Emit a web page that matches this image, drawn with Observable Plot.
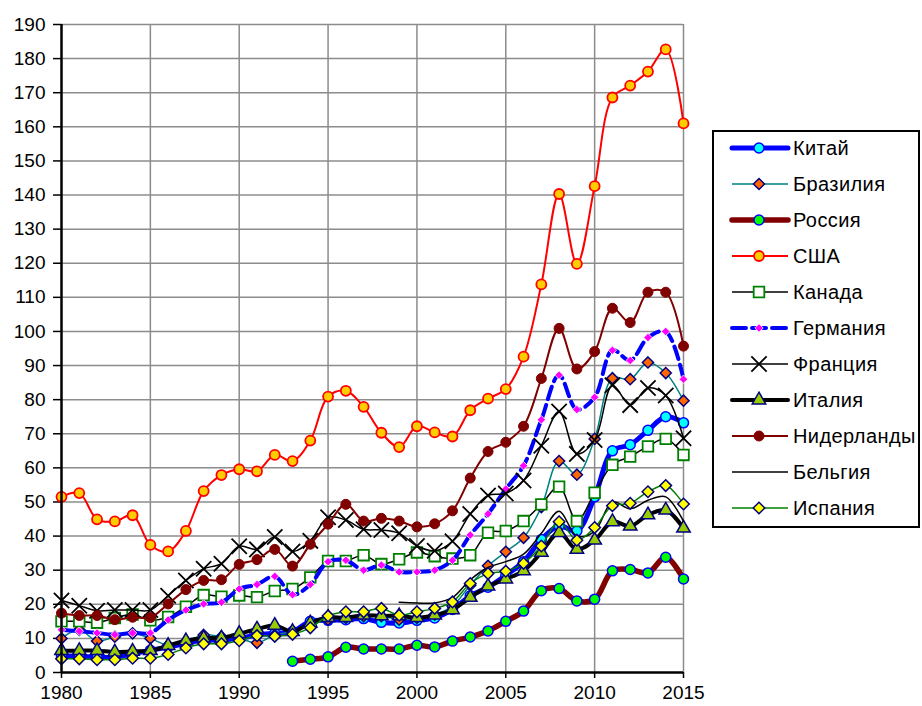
<!DOCTYPE html>
<html><head><meta charset="utf-8">
<script src="https://cdn.jsdelivr.net/npm/d3@7"></script>
<script src="https://cdn.jsdelivr.net/npm/@observablehq/plot@0.6"></script>
<style>
body{margin:0;background:#fff;}
#wrap{position:relative;width:922px;height:706px;overflow:hidden;}
#wrap svg{display:block;}
#legend{position:absolute;left:0;top:0;}
</style></head><body><div id="wrap"></div>
<script>
const years = [1980,1981,1982,1983,1984,1985,1986,1987,1988,1989,1990,1991,1992,1993,1994,1995,1996,1997,1998,1999,2000,2001,2002,2003,2004,2005,2006,2007,2008,2009,2010,2011,2012,2013,2014,2015];
const xTicks = [1980,1985,1990,1995,2000,2005,2010,2015];
const yTicks = [0,10,20,30,40,50,60,70,80,90,100,110,120,130,140,150,160,170,180,190];

const china = [4.8,4.8,4.5,4.5,5.5,6.5,7.5,8.5,9.5,9.5,10.0,11.0,11.5,12.0,15.0,15.3,15.5,15.8,14.7,14.5,15.3,16.0,18.5,22.5,25.0,28.5,32.5,39.0,43.0,41.5,51.5,65.0,66.8,71.0,75.0,73.2];
const brazil = [10.0,12.5,9.2,10.5,11.5,10.0,8.0,9.0,11.0,10.5,10.0,8.7,11.0,12.0,14.0,15.5,16.0,16.5,16.5,15.5,16.0,17.0,19.5,25.6,31.3,35.4,39.5,48.5,62.0,58.0,68.5,86.3,86.0,90.9,87.8,79.7];
const russia = [null,null,null,null,null,null,null,null,null,null,null,null,null,3.3,3.9,4.6,7.4,6.9,6.9,6.9,8.0,7.5,9.2,10.4,12.2,15.0,18.0,24.0,24.6,21.0,21.5,29.8,30.2,29.2,33.8,27.4];
const usa = [51.5,52.6,44.9,44.3,46.1,37.4,35.5,41.5,53.2,57.9,59.6,59.0,63.8,62.0,68.0,80.9,82.6,77.9,70.3,66.1,72.2,70.4,69.2,76.9,80.3,83.1,92.6,113.8,140.3,119.8,142.6,168.6,172.1,176.2,182.7,161.0];
const canada = [15.0,15.0,14.6,16.0,17.0,15.3,16.3,19.3,22.7,22.2,22.6,22.1,23.9,24.5,27.9,32.7,32.7,34.4,31.8,33.2,35.2,34.1,33.4,34.4,41.0,41.5,44.4,49.3,54.5,44.4,52.7,60.9,63.3,66.3,68.5,63.8];
const germany = [12.5,12.1,11.6,11.1,11.6,11.6,15.4,18.3,20.1,20.6,24.5,25.8,28.2,22.8,25.8,32.5,32.9,30.0,31.5,29.5,29.5,30.0,32.9,40.3,46.5,53.8,60.6,74.1,87.2,77.1,80.7,94.5,91.5,98.2,100.0,86.0];
const france = [21.1,19.6,18.1,18.3,18.3,18.3,22.5,27.0,30.4,31.9,37.0,36.1,39.7,35.5,38.6,45.5,44.7,42.0,41.8,40.8,37.1,35.7,38.5,46.5,51.9,52.5,56.3,66.5,76.5,64.1,68.2,84.2,78.4,83.4,81.2,68.7];
const italy = [6.4,6.4,6.4,6.0,6.2,6.4,7.9,9.3,10.1,10.1,11.4,12.7,13.8,12.0,14.5,16.1,16.1,16.8,16.6,16.6,16.1,16.8,18.4,22.0,25.3,27.4,29.8,35.2,41.0,36.1,38.8,44.2,42.9,46.2,47.6,42.3];
const netherlands = [17.4,16.7,16.7,15.5,16.2,16.1,20.1,24.3,27.0,27.2,31.7,33.1,36.1,31.2,37.6,43.5,49.3,44.4,45.2,44.4,42.7,43.6,47.4,57.0,64.8,67.5,72.2,86.2,100.9,89.0,94.1,106.8,102.6,111.5,111.5,95.7];
const belgium = [null,null,null,null,null,null,null,null,null,null,null,null,null,null,null,null,null,null,null,20.6,20.4,20.4,22.0,27.2,30.8,32.5,34.7,40.8,47.3,40.0,41.4,50.0,48.0,50.5,51.5,44.3];
const spain = [4.0,4.0,3.75,3.75,4.2,4.2,5.3,7.2,8.4,8.4,9.3,10.8,10.6,11.2,13.1,16.6,17.8,17.8,18.8,16.8,17.8,18.8,20.7,26.1,29.0,29.7,32.0,37.1,44.2,38.8,42.5,48.9,49.6,53.0,54.8,49.4];

const names = ["Китай","Бразилия","Россия","США","Канада","Германия","Франция","Италия","Нидерланды","Бельгия","Испания"];
const valuesList = [china,brazil,russia,usa,canada,germany,france,italy,netherlands,belgium,spain];

// styles
const styles = [
  {line:"#0000ff", lw:5, dash:null, symbol:"circle", r:5, fill:"#00ffff", stroke:"#0000ff", sw:1.5},
  {line:"#008080", lw:1.5, dash:null, symbol:"diamond2", r:5, fill:"#ff6600", stroke:"#000080", sw:1.5},
  {line:"#800000", lw:5.5, dash:null, symbol:"circle", r:5, fill:"#00ff00", stroke:"#0000ff", sw:1.5},
  {line:"#ff0000", lw:2, dash:null, symbol:"circle", r:5, fill:"#ffcc00", stroke:"#ff0000", sw:1.8},
  {line:"#000000", lw:1.5, dash:null, symbol:"square", r:6, fill:"#ffffff", stroke:"#008000", sw:1.8},
  {line:"#0000ff", lw:4, dash:"13,6", symbol:"diamond2", r:3.8, fill:"#ff00ff", stroke:"#ffffff", sw:0.8},
  {line:"#000000", lw:1.5, dash:null, symbol:"times", r:7, fill:"none", stroke:"#000000", sw:1.8},
  {line:"#000000", lw:4, dash:null, symbol:"triangle", r:5, fill:"#99cc00", stroke:"#000080", sw:1.5},
  {line:"#800000", lw:2, dash:null, symbol:"circle", r:5, fill:"#800000", stroke:"#800000", sw:1},
  {line:"#000000", lw:1.5, dash:null, symbol:null},
  {line:"#008000", lw:1.5, dash:null, symbol:"diamond2", r:5.2, fill:"#ffff00", stroke:"#000080", sw:1.5}
];

const font = "'Liberation Sans', Arial, sans-serif";
const marks = [
  Plot.gridX(xTicks.slice(1), {stroke:"#8c8c8c", strokeOpacity:1, strokeWidth:1.5}),
  Plot.gridY(yTicks.slice(1), {stroke:"#8c8c8c", strokeOpacity:1, strokeWidth:1.5}),
  Plot.axisY({ticks: yTicks, tickSize: 8, tickPadding: 8, fontSize: 19, stroke:"#000", strokeWidth:1.5, label:null}),
  Plot.axisX({ticks: xTicks, tickSize: 6, tickPadding: 7, fontSize: 19, tickFormat: d => String(d), stroke:"#000", strokeWidth:1.5, label:null}),
];

names.forEach((name, i) => {
  const st = styles[i];
  const data = years.map((y, j) => ({year: y, value: valuesList[i][j]})).filter(d => d.value != null);
  marks.push(Plot.line(data, {x:"year", y:"value", stroke: st.line, strokeWidth: st.lw, curve:"catmull-rom", strokeDasharray: st.dash || undefined, strokeLinejoin:"round"}));
  if (st.symbol) {
    marks.push(Plot.dot(data, {x:"year", y:"value", symbol: st.symbol, r: st.r, fill: st.fill, stroke: st.stroke, strokeWidth: st.sw}));
  }
});

marks.push(Plot.ruleX([1980], {stroke:"#000", strokeWidth:2.5}));
marks.push(Plot.ruleY([0], {stroke:"#000", strokeWidth:2.5}));

const chart = Plot.plot({
  width: 922, height: 706,
  marginLeft: 61, marginRight: 239, marginTop: 24, marginBottom: 34,
  x: {domain: [1980, 2015], type: "linear"},
  y: {domain: [0, 190]},
  style: {fontFamily: font, fontSize: "19px", color: "#000", background: "#fff", overflow: "visible"},
  marks
});
const wrap = document.getElementById("wrap");
wrap.appendChild(chart);

// legend
const ns = "http://www.w3.org/2000/svg";
const lg = document.createElementNS(ns, "svg");
lg.setAttribute("id", "legend");
lg.setAttribute("width", 922); lg.setAttribute("height", 706);
lg.style.pointerEvents = "none";
const box = document.createElementNS(ns, "rect");
box.setAttribute("x", 713); box.setAttribute("y", 131); box.setAttribute("width", 206); box.setAttribute("height", 396);
box.setAttribute("fill", "#fff"); box.setAttribute("stroke", "#000"); box.setAttribute("stroke-width", 2);
lg.appendChild(box);
const symMap = {circle: d3.symbolCircle, diamond2: d3.symbolDiamond2, square: d3.symbolSquare, times: d3.symbolTimes, triangle: d3.symbolTriangle};
names.forEach((name, i) => {
  const st = styles[i];
  const cy = 148 + i * 36;
  const ln = document.createElementNS(ns, "line");
  ln.setAttribute("x1", 732); ln.setAttribute("x2", 788); ln.setAttribute("y1", cy); ln.setAttribute("y2", cy);
  ln.setAttribute("stroke", st.line); ln.setAttribute("stroke-width", st.lw);
  if (st.dash) ln.setAttribute("stroke-dasharray", "14,6");
  if (st.lw >= 4) ln.setAttribute("stroke-linecap", "round");
  lg.appendChild(ln);
  if (st.symbol) {
    const p = document.createElementNS(ns, "path");
    p.setAttribute("d", d3.symbol(symMap[st.symbol], st.r * st.r * Math.PI)());
    p.setAttribute("transform", `translate(759,${cy})`);
    p.setAttribute("fill", st.fill); p.setAttribute("stroke", st.stroke); p.setAttribute("stroke-width", st.sw);
    lg.appendChild(p);
  }
  const t = document.createElementNS(ns, "text");
  t.setAttribute("x", 793); t.setAttribute("y", cy + 7);
  t.setAttribute("font-family", font); t.setAttribute("font-size", 20);
  t.setAttribute("letter-spacing", "0.4");
  t.setAttribute("fill", "#000");
  t.textContent = name;
  lg.appendChild(t);
});
wrap.appendChild(lg);
</script></body></html>
